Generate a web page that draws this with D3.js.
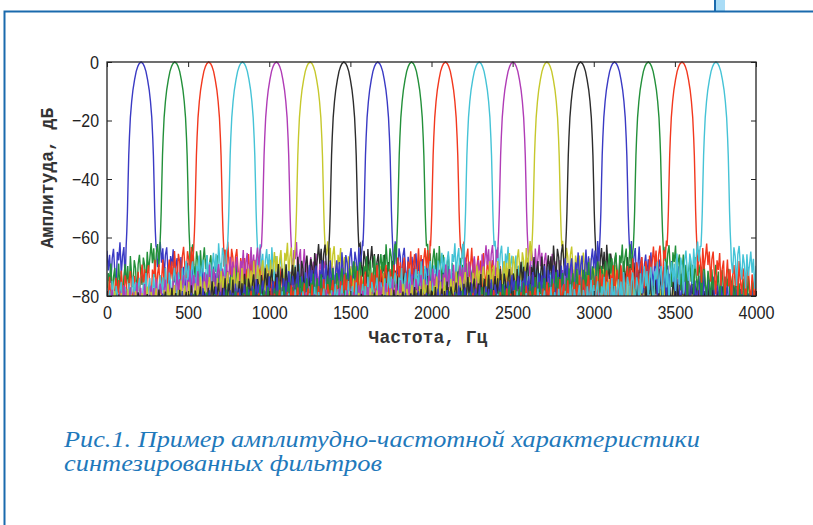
<!DOCTYPE html>
<html><head><meta charset="utf-8">
<script src="https://cdn.jsdelivr.net/npm/d3@7"></script>
<style>body{margin:0;background:#fff}svg{display:block}</style>
</head><body><svg id="c" width="813" height="525"></svg>
<script>
// ---- data ----
const centerFreqsHz = [210, 418, 627, 835, 1044, 1252, 1460, 1669, 1877, 2086, 2294, 2502, 2711, 2919, 3128, 3336, 3544, 3753];
const seriesColors = ["#3a3ac4", "#23903a", "#f2381e", "#45c3d6", "#b03cb6", "#c6c82c", "#2c2c2c",
                      "#3a3ac4", "#23903a", "#f2381e", "#45c3d6", "#b03cb6", "#c6c82c", "#2c2c2c",
                      "#3a3ac4", "#23903a", "#f2381e", "#45c3d6"];
// main lobe: distance from centre (Hz) -> level (dB)
const lobeOffsetHz = [0, 12, 20, 30, 40, 50, 58, 66, 72, 76, 80, 84, 88, 92];
const lobeDb       = [0, -0.6, -1.5, -3.2, -6, -9.5, -13.5, -19, -26, -32, -41, -51, -58, -63];
// side-lobe upper envelope: distance from centre (Hz) -> level (dB)
const sideEnvOffsetHz = [92, 150, 220, 300, 450, 650, 900, 1300, 2000, 4000];
const sideEnvDb       = [-61, -62, -65, -67, -70, -73, -76, -79, -83, -88];
// side-lobe ripple below the envelope (dB)
const rippleDb = [0, -7, -2, -12, -4, -1, -9, -15, -3, -6, 0, -11, -5, -2, -14, -8, -1, -10, -4, -16, -6,
                  -2, -9, -3, -13, 0, -7, -11, -2, -5, -15, -4, -1, -8, -12, -3, -6, -14, -2, -9, -5];
const xTicks = [0, 500, 1000, 1500, 2000, 2500, 3000, 3500, 4000];
const yTicks = [0, -20, -40, -60, -80];
const xLabel = "Частота, Гц";
const yLabel = "Амплитуда, дБ";
const captionLines = ["Рис.1. Пример амплитудно-частотной характеристики", "синтезированных фильтров"];

// ---- layout ----
const svg = d3.select("#c");
const L = 107, R = 756, T = 62, B = 296;
const x = d3.scaleLinear().domain([0, 4000]).range([L, R]);
const y = d3.scaleLinear().domain([-80, 0]).range([B, T]);
const env = d3.scaleLinear().domain(sideEnvOffsetHz).range(sideEnvDb).clamp(true);

// outer page frame
svg.append("rect").attr("x", 714).attr("y", 0).attr("width", 11).attr("height", 11).attr("fill", "#a9dcf6");
svg.append("line").attr("x1", 715).attr("x2", 715).attr("y1", 0).attr("y2", 11).attr("stroke", "#1a6aad").attr("stroke-width", 2);
svg.append("path").attr("d", "M4.5,525V11.5H813").attr("fill", "none").attr("stroke", "#1a6aad").attr("stroke-width", 2);

svg.append("defs").append("clipPath").attr("id", "clip")
  .append("rect").attr("x", L).attr("y", T - 1).attr("width", R - L).attr("height", B - T + 1);

const grid = d3.range(0, 4001, 8);
const line = d3.line().x(d => x(d[0])).y(d => y(Math.max(d[1], -84)));
const plot = svg.append("g").attr("clip-path", "url(#clip)");

centerFreqsHz.forEach((c, i) => {
  const pts = [];
  grid.forEach((f, j) => {
    const dist = Math.abs(f - c);
    if (dist > lobeOffsetHz[lobeOffsetHz.length - 1]) {
      pts.push([f, env(dist) + rippleDb[(j + i * 7) % rippleDb.length]]);
    }
  });
  lobeOffsetHz.forEach((o, k) => {
    pts.push([c - o, lobeDb[k]]);
    if (o > 0) pts.push([c + o, lobeDb[k]]);
  });
  pts.sort((a, b) => a[0] - b[0]);
  plot.append("path").datum(pts).attr("d", line)
    .attr("fill", "none").attr("stroke", seriesColors[i]).attr("stroke-width", 1.4);
});

// axes (ticks inward, MATLAB style box)
const tickFont = "'Liberation Sans', Arial, sans-serif";
const ax = svg.append("g");
ax.append("g").attr("transform", `translate(0,${B})`)
  .call(d3.axisBottom(x).tickValues(xTicks).tickSizeInner(-5).tickSizeOuter(0).tickPadding(10).tickFormat(d3.format("d")));
ax.append("g").attr("transform", `translate(0,${T})`)
  .call(d3.axisTop(x).tickValues(xTicks).tickSizeInner(-5).tickSizeOuter(0).tickFormat(""));
ax.append("g").attr("transform", `translate(${L},0)`)
  .call(d3.axisLeft(y).tickValues(yTicks).tickSizeInner(-5).tickSizeOuter(0).tickPadding(8).tickFormat(d3.format("d")));
ax.append("g").attr("transform", `translate(${R},0)`)
  .call(d3.axisRight(y).tickValues(yTicks).tickSizeInner(-5).tickSizeOuter(0).tickFormat(""));
ax.selectAll(".domain").remove();
ax.selectAll(".tick line").attr("stroke", "#222");
ax.selectAll(".tick text")
  .attr("fill", "#222").style("font-family", tickFont).style("font-size", "19px")
  .attr("textLength", function() { return this.textContent.length * 9; })
  .attr("lengthAdjust", "spacingAndGlyphs");
svg.append("rect").attr("x", L).attr("y", T).attr("width", R - L).attr("height", B - T)
  .attr("fill", "none").attr("stroke", "#222").attr("stroke-width", 1.3);

// axis titles
svg.append("text").attr("x", 428).attr("y", 343).attr("text-anchor", "middle")
  .style("font-family", "'Liberation Mono', 'Courier New', monospace").style("font-weight", "bold")
  .style("font-size", "18px").attr("fill", "#333").text(xLabel);
svg.append("text").attr("transform", "translate(53,178) rotate(-90)").attr("text-anchor", "middle")
  .style("font-family", "'Liberation Mono', 'Courier New', monospace").style("font-weight", "bold")
  .style("font-size", "18px").attr("fill", "#333").text(yLabel);

// caption
const cap = svg.append("text").attr("fill", "#1f79bb")
  .style("font-family", "'Liberation Serif', 'Times New Roman', serif").style("font-style", "italic").style("font-size", "24px");
cap.append("tspan").attr("x", 64).attr("y", 447).attr("textLength", 636).attr("lengthAdjust", "spacingAndGlyphs").text(captionLines[0]);
cap.append("tspan").attr("x", 64).attr("y", 471).attr("textLength", 318).attr("lengthAdjust", "spacingAndGlyphs").text(captionLines[1]);
</script></body></html>
